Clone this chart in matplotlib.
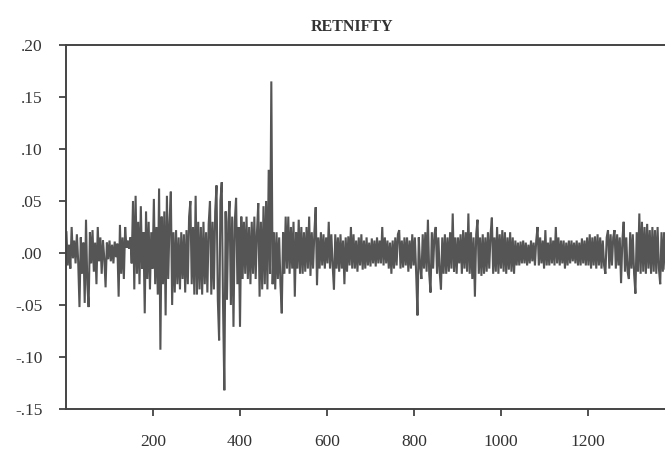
import numpy as np
import matplotlib
matplotlib.use("Agg")
import matplotlib.pyplot as plt

title = "RETNIFTY"
y_ticks = [-0.15, -0.10, -0.05, 0.00, 0.05, 0.10, 0.15, 0.20]
y_labels = ["-.15", "-.10", "-.05", ".00", ".05", ".10", ".15", ".20"]
x_ticks = [200, 400, 600, 800, 1000, 1200]
x_labels = ["200", "400", "600", "800", "1000", "1200"]

ret = [
    .020, -.012, .008, -.015, .025, -.005, .012, -.010, .018, -.008,
    -.052, .015, -.020, .010, -.048, .032, -.030, -.052, .020, -.010,
    .022, -.018, .010, -.030, .025, -.008, .015, -.020, .012, -.005,
    -.033, .010, -.006, .012, -.008, .008, -.010, .011, -.004, .009,
    -.042, .027, -.020, .015, -.025, .025, .005, .012, .004, .015,
    -.010, .050, -.035, .055, -.020, .030, -.030, .045, -.015, .020,
    -.058, .040, -.025, .030, -.035, .020, -.015, .052, -.030, .025,
    -.040, .062, -.093, .035, -.030, .040, -.060, .055, -.025, .030,
    .059, -.050, .020, -.038, .022, -.030, .015, -.035, .020, -.025,
    .018, -.038, .022, -.030, .035, .050, -.030, .025, -.040, .055,
    -.040, .030, -.035, .025, -.040, .030, -.030, .020, -.038, .028,
    .050, -.040, .030, -.035, .040, .065, -.045, -.084, .050, .068,
    -.050, -.132, .040, -.045, .030, .050, -.050, .035, -.071, .030,
    .053, -.030, .025, -.071, .035, -.025, .030, -.020, .035, -.025,
    .025, -.030, .030, -.020, .035, -.025, .020, .048, -.042, .030,
    -.035, .045, -.030, .050, -.035, .080, -.020, .165, -.030, .020,
    -.035, .020, -.025, .015, -.030, -.058, .020, -.020, .035, -.015,
    .035, -.020, .025, -.015, .030, -.042, .020, -.015, .032, -.020,
    .025, -.020, .020, -.018, .025, -.015, .035, -.022, .020, -.015,
    .020, .044, -.031, .015, -.015, .020, -.012, .018, -.015, .015,
    -.010, .030, -.015, .018, -.012, -.035, .018, -.015, .015, -.018,
    .018, -.015, .012, -.030, .015, -.018, .016, -.012, .025, -.015,
    .018, -.015, .012, -.018, .015, -.012, .018, -.016, .012, -.015,
    .015, -.012, .010, -.013, .014, -.010, .012, -.013, .015, -.010,
    .012, -.010, .025, -.012, .015, -.010, .012, -.015, .010, -.020,
    .012, -.015, .015, -.012, .018, .022, -.015, .012, -.014, .015,
    -.012, .015, -.018, .012, -.015, .018, -.012, .015, -.020, -.060,
    .015, -.012, -.025, .018, -.015, .020, -.018, .032, -.020, -.038,
    .020, -.015, .018, .025, -.020, .015, -.018, -.035, .015, -.020,
    .018, -.020, .015, -.018, .020, -.015, .038, -.018, .015, -.020,
    .015, -.010, .018, -.020, .022, -.015, .020, -.018, .038, -.020,
    .020, -.025, .015, -.042, .018, .032, -.020, .015, -.022, .018,
    -.020, .015, -.018, .020, -.015, .018, .034, -.020, .015, -.018,
    .025, -.020, .018, -.015, .022, -.018, .020, -.020, .015, -.016,
    .020, -.018, .015, -.020, .012, -.012, .010, -.012, .011, -.010,
    .012, -.010, .010, -.012, .008, -.010, .012, -.008, .010, -.012,
    .012, .025, -.012, .015, -.010, .012, -.015, .022, -.012, .010,
    -.012, .015, -.010, .012, -.012, .025, -.010, .015, -.012, .012,
    -.010, .012, -.015, .010, -.012, .012, -.010, .012, -.008, .010,
    -.010, .012, -.012, .010, -.012, .014, -.010, .012, -.012, .015,
    -.012, .018, -.015, .015, -.012, .016, -.015, .018, -.012, .015,
    -.015, .012, -.012, -.020, .015, .022, -.015, .018, -.012, .015,
    .022, -.015, .018, -.012, .015, -.029, .012, .030, -.018, .015,
    -.018, -.025, .020, -.015, .018, -.020, -.039, .020, -.018, .038,
    -.020, .030, -.018, .025, -.020, .028, -.015, .022, -.020, .025,
    -.018, .022, -.020, .025, -.015, -.030, .020, -.018, .020, -.015,
]
obs = np.arange(1, 3 * len(ret), 3)

serif = ["Liberation Serif", "DejaVu Serif"]

fig = plt.figure(figsize=(6.65, 4.54), dpi=100)
ax = fig.add_axes([66 / 665, 1 - 409 / 454, 1400 * 0.435 / 665, (409 - 45) / 454])
ax.plot(obs, ret, color="#555555", linewidth=1.5, solid_joinstyle="miter")

ax.set_xlim(0, 1400)
ax.set_ylim(-0.15, 0.20)
ax.set_yticks(y_ticks)
ax.set_yticklabels(y_labels, family=serif, fontsize=12.5, color="#333333")
ax.set_xticks(x_ticks)
ax.set_xticklabels(x_labels, family=serif, fontsize=12.5, color="#333333")
ax.tick_params(axis="y", direction="out", length=5, width=1.2, pad=12, colors="#333333")
ax.tick_params(axis="x", direction="out", length=5, width=1.2, pad=13, colors="#333333")
for side in ["left", "bottom", "top", "right"]:
    ax.spines[side].set_linewidth(1.4)
    ax.spines[side].set_color("#444444")

fig.text(352 / 665, 1 - 27 / 454, title, ha="center", va="center",
         family=serif, fontsize=11.5, fontweight="bold", color="#333333")

fig.savefig("out.png", dpi=100)
